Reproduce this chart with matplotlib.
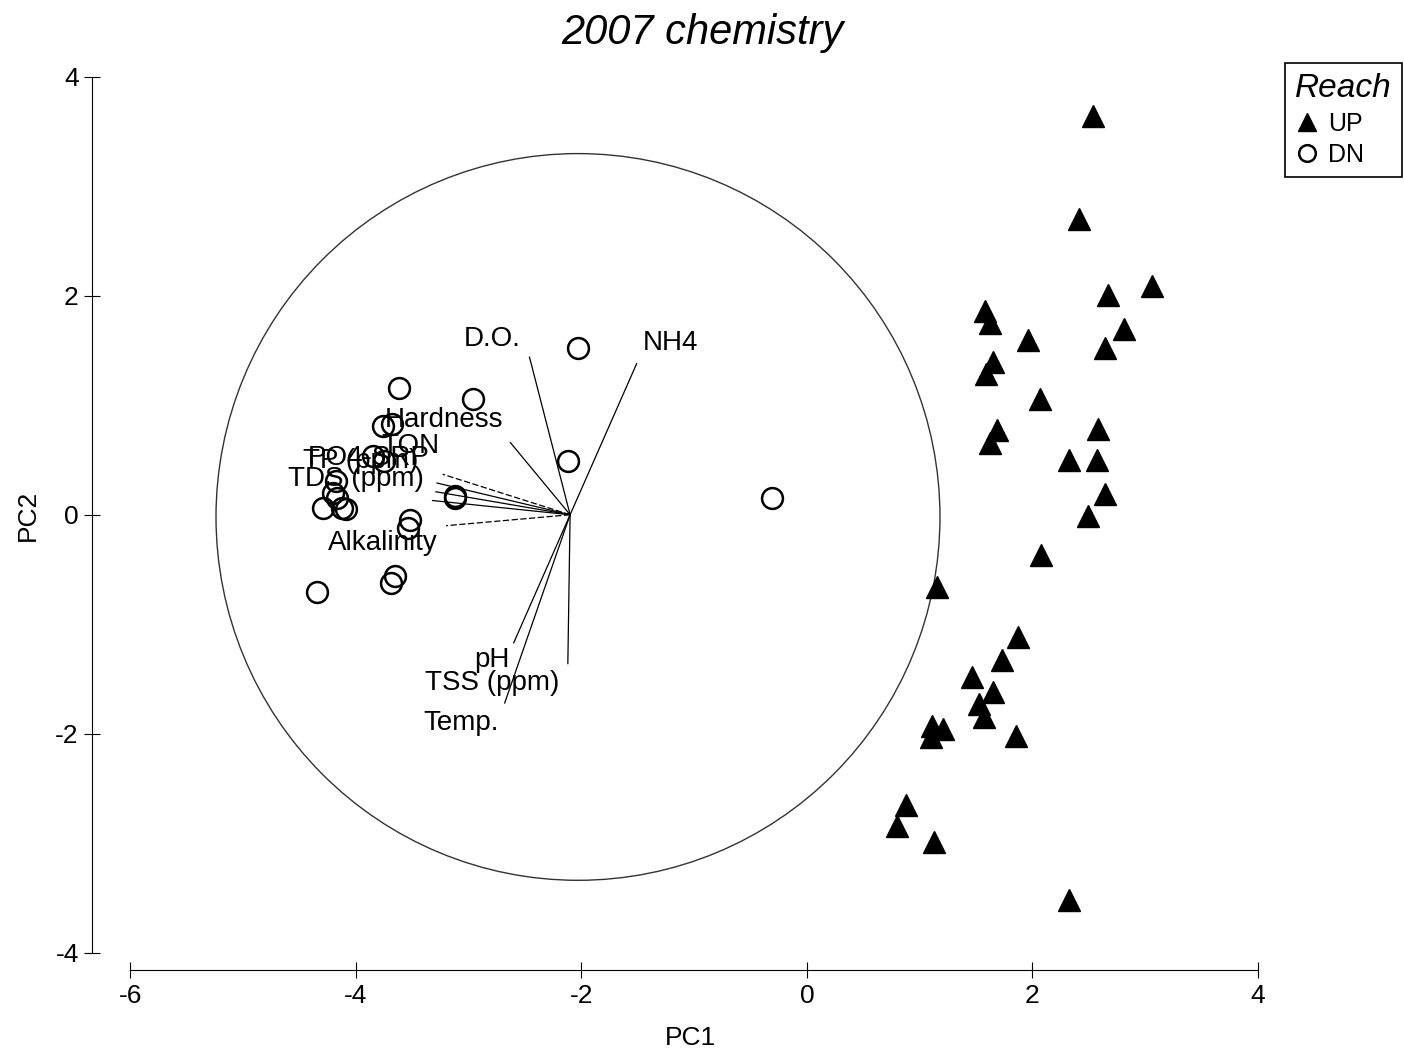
import numpy as np
import matplotlib
matplotlib.use("Agg")
import matplotlib.pyplot as plt
from matplotlib.patches import Ellipse

plt.rcParams['font.family'] = ['Liberation Sans', 'DejaVu Sans']
plt.rcParams['axes.unicode_minus'] = False

# site scores, upstream reach
up_x = [2.54, 2.41, 3.06, 2.67, 2.81, 1.58, 1.62, 1.96, 2.64, 1.65, 1.59, 2.07,
        1.69, 1.62, 2.58, 2.32, 2.57, 2.64, 2.49, 2.08, 1.15, 1.87, 1.73, 1.46,
        1.65, 1.53, 1.57, 1.11, 1.21, 1.10, 1.85, 0.88, 0.80, 1.13, 2.32]
up_y = [3.64, 2.70, 2.09, 2.01, 1.70, 1.86, 1.75, 1.60, 1.52, 1.40, 1.29, 1.06,
        0.77, 0.66, 0.78, 0.50, 0.50, 0.19, -0.01, -0.37, -0.66, -1.12, -1.33, -1.48,
        -1.62, -1.73, -1.85, -1.93, -1.96, -2.03, -2.02, -2.65, -2.84, -2.99, -3.52]

# site scores, downstream reach
dn_x = [-2.03, -3.62, -2.96, -3.76, -3.68, -2.12, -3.85, -3.75, -3.12, -3.12, -4.18,
        -4.20, -4.17, -4.29, -4.12, -4.09, -3.52, -3.54, -3.65, -3.69, -4.34, -0.31]
dn_y = [1.52, 1.16, 1.06, 0.81, 0.83, 0.49, 0.54, 0.49, 0.15, 0.17, 0.31,
        0.20, 0.15, 0.06, 0.06, 0.05, -0.05, -0.12, -0.56, -0.62, -0.71, 0.15]

# variable loadings (vector tips)
origin = (-2.10, 0.0)
vec_x = [-2.46, -1.51, -2.63, -3.23, -3.28, -3.29, -3.32, -3.20, -2.60, -2.68, -2.12]
vec_y = [1.44, 1.38, 0.66, 0.37, 0.29, 0.21, 0.13, -0.10, -1.17, -1.72, -1.36]
vec_dashed = [False, False, False, True, False, False, False, True, False, False, False]

var_names = ['D.O.', 'NH4', 'Hardness', 'TON', 'PO4-SRP', 'TP (ppm)', 'TDS (ppm)',
             'Alkalinity', 'pH', 'TSS (ppm)', 'Temp.']
lab_x = [-2.79, -1.21, -3.22, -3.52, -3.89, -3.96, -4.00, -3.76, -2.79, -2.79, -3.07]
lab_y = [1.61, 1.57, 0.87, 0.63, 0.52, 0.49, 0.33, -0.26, -1.33, -1.54, -1.90]

fig = plt.figure(figsize=(14.04, 10.56), dpi=100)
ax = fig.add_axes([0.0655, 0.0814, 0.8305, 0.8457])

ax.add_patch(Ellipse((-2.03, -0.02), 6.42, 6.64, fill=False, ec='#333333', lw=1.0))

for vx, vy, d in zip(vec_x, vec_y, vec_dashed):
    ax.plot([origin[0], vx], [origin[1], vy], color='black', lw=0.9,
            ls=(0, (5, 2)) if d else '-')

for name, tx, ty in zip(var_names, lab_x, lab_y):
    ax.text(tx, ty, name, ha='center', va='center', fontsize=20)

ax.plot(dn_x, dn_y, 'o', ms=15, mfc='none', mec='black', mew=1.8, ls='none', label='DN')
ax.plot(up_x, up_y, '^', ms=16, mfc='black', mec='black', ls='none', label='UP')

ax.set_xlim(-6.34, 4.0)
ax.set_ylim(-4.16, 4.0)
ax.set_xticks([-6, -4, -2, 0, 2, 4])
ax.set_yticks([-4, -2, 0, 2, 4])
ax.spines['top'].set_visible(False)
ax.spines['right'].set_visible(False)
ax.spines['left'].set_bounds(-4, 4)
ax.spines['bottom'].set_bounds(-6, 4)
ax.spines['left'].set_linewidth(0.8)
ax.spines['bottom'].set_linewidth(0.8)
ax.tick_params(direction='inout', length=12, width=0.8, labelsize=19)
ax.tick_params(axis='x', pad=4)

ax.set_xlabel('PC1', fontsize=19)
ax.set_ylabel('PC2', fontsize=19)
ax.xaxis.set_label_coords(0.513, -0.063)
ax.yaxis.set_label_coords(-0.045, 0.509)

fig.text(0.5, 0.969, '2007 chemistry', ha='center', va='center', fontsize=30, style='italic')

h, l = ax.get_legend_handles_labels()
leg = ax.legend([h[1], h[0]], [l[1], l[0]], title='Reach', loc='upper right',
                bbox_to_anchor=(0.9986, 0.9403), bbox_transform=fig.transFigure,
                borderaxespad=0, fontsize=18, title_fontsize=24, alignment='left',
                handlelength=0.9, handletextpad=0.4, labelspacing=0.3, borderpad=0.4,
                fancybox=False, framealpha=1, edgecolor='black', markerscale=0.8)
leg.get_title().set_style('italic')
leg.get_frame().set_linewidth(1.2)

fig.savefig('out.png', dpi=100)
